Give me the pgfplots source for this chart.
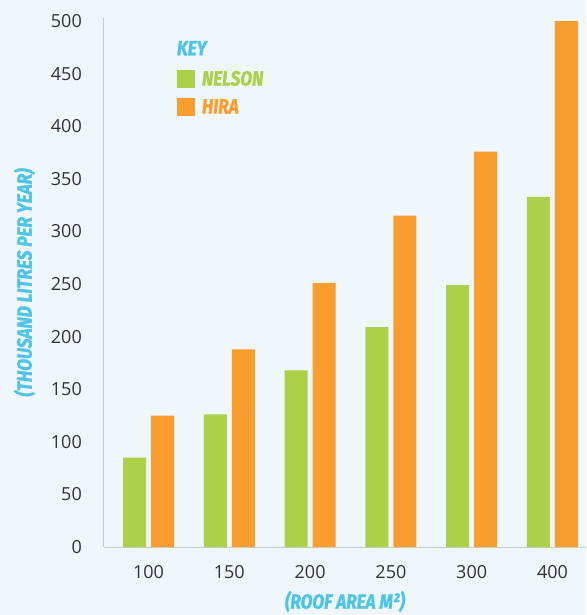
\documentclass[border=0pt]{standalone}
\usepackage{fontspec}
\setmainfont{Open Sans}
\newfontfamily\keyfont[FakeStretch=0.84,FakeBold=1.5]{Fira Sans}
\usepackage{pgfplots}
\pgfplotsset{compat=1.18}
\usetikzlibrary{backgrounds,calc}

\definecolor{nelson}{HTML}{ADD04B}
\definecolor{hira}{HTML}{F99D2E}
\definecolor{labcyan}{HTML}{4DC4E8}
\definecolor{bg}{HTML}{EFF7FA}
\definecolor{tick}{HTML}{333333}
\definecolor{axline}{HTML}{C8CCCE}

\newcommand{\lab}{\keyfont\bfseries\itshape\fontsize{20.5}{22}\selectfont}

\begin{document}
\begin{tikzpicture}
\begin{axis}[
    name=ax,
    scale only axis,
    width=482pt, height=529pt,
    xmin=-0.551, xmax=5.415,
    ymin=0, ymax=503,
    clip=false,
    axis x line*=bottom,
    axis y line*=left,
    axis line style={draw=axline, line width=1pt, -},
    major tick length=0pt,
    xtick=data,
    xticklabels={100,150,200,250,300,400},
    ytick={0,50,...,500},
    /pgf/number format/assume math mode=true,
    tick label style={font=\fontsize{18}{20}\selectfont, text=tick},
    yticklabel style={inner sep=0pt, anchor=east, xshift=-22pt},
    xticklabel style={inner sep=0pt, anchor=north, yshift=-18pt},
    xlabel={(ROOF AREA M²)},
    ylabel={(THOUSAND LITRES PER YEAR)},
    label style={font=\lab, text=labcyan, inner sep=0pt},
    xlabel style={at={(axis description cs:0.5,-0.103)}, anchor=center},
    ylabel style={at={(axis description cs:-0.165,0.5)}, anchor=center},
    ybar,
    bar width=23pt,
    legend image code/.code={\fill[#1,draw=none] (0pt,-9pt) rectangle (18pt,9pt);},
    legend style={at={(axis description cs:0.151,0.902)}, anchor=north west,
        draw=none, fill=none, inner sep=0pt, row sep=10pt, column sep=7pt,
        font=\lab, nodes={inner sep=0pt, anchor=west}},
]
\addplot[fill=nelson, draw=none, bar shift=-14pt] coordinates {
    (0,85) (1,126) (2,168) (3,209) (4,249) (5,333)
};
\addlegendentry{\textcolor{nelson}{NELSON}}
\addplot[fill=hira, draw=none, bar shift=14pt] coordinates {
    (0,125) (1,188) (2,251) (3,315) (4,376) (5,500)
};
\addlegendentry{\textcolor{hira}{HIRA}}
\node[anchor=west, inner sep=0pt, font=\lab, text=labcyan]
    at (axis description cs:0.151,0.943) {KEY};
\end{axis}
\begin{scope}[on background layer]
\fill[bg] ($(ax.south west)+(-104pt,-68pt)$) rectangle ($(ax.north east)+(0pt,18pt)$);
\end{scope}
\pgfresetboundingbox
\useasboundingbox ($(ax.south west)+(-104pt,-68pt)$) rectangle ($(ax.north east)+(0pt,18pt)$);
\end{tikzpicture}
\end{document}
